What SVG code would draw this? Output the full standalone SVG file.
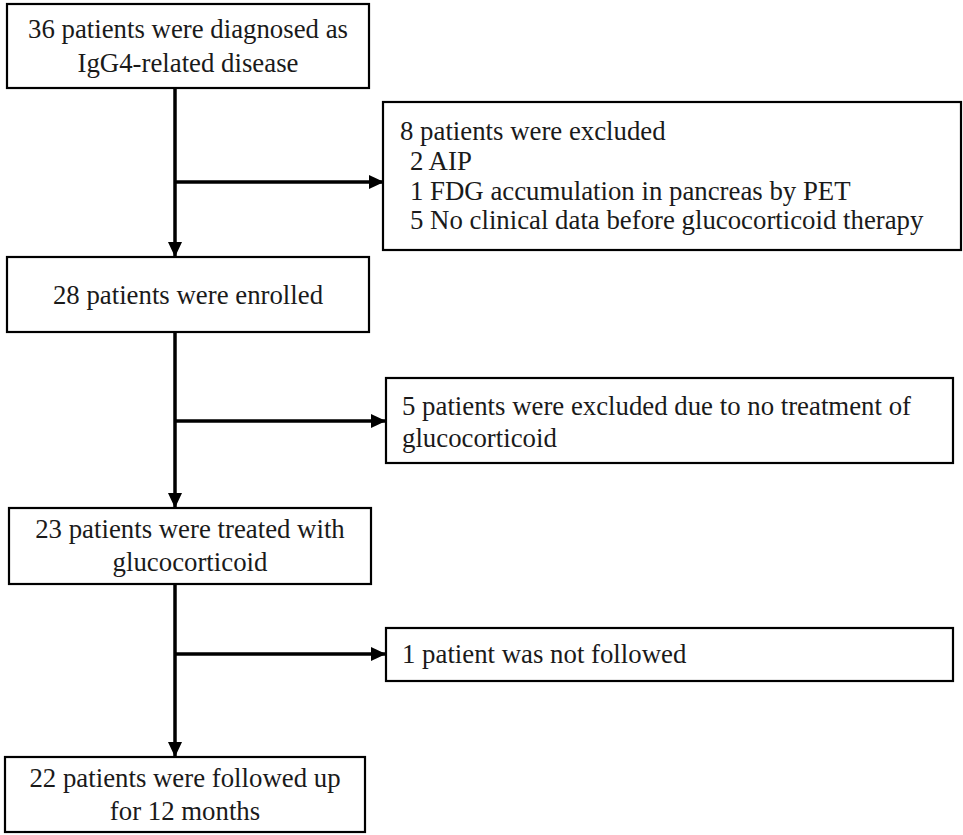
<svg xmlns="http://www.w3.org/2000/svg" width="963" height="835" viewBox="0 0 963 835">
<style>
.box{fill:#fff;stroke:#000;stroke-width:2.2}
.t{font-family:"Liberation Serif","Times New Roman",serif;font-size:26.8px;fill:#1a1a1a}
.c{text-anchor:middle}
.ln{stroke:#000;stroke-width:3.5;fill:none}
</style>
<defs>
<marker id="ah" markerUnits="userSpaceOnUse" markerWidth="15" markerHeight="14" refX="15" refY="7" orient="auto">
<path d="M0,0 L15,7 L0,14 z" fill="#000"/>
</marker>
</defs>
<g id="connectors">
<line class="ln" x1="175" y1="88" x2="175" y2="257" marker-end="url(#ah)"/>
<line class="ln" x1="175" y1="182" x2="384" y2="182" marker-end="url(#ah)"/>
<line class="ln" x1="175" y1="332" x2="175" y2="508" marker-end="url(#ah)"/>
<line class="ln" x1="175" y1="421" x2="386" y2="421" marker-end="url(#ah)"/>
<line class="ln" x1="175" y1="584" x2="175" y2="757" marker-end="url(#ah)"/>
<line class="ln" x1="175" y1="654" x2="386" y2="654" marker-end="url(#ah)"/>
</g>
<g id="n1">
<rect class="box" x="7" y="4" width="362" height="84"/>
<text class="t c" x="188" y="38">36 patients were diagnosed as</text>
<text class="t c" x="188" y="72">IgG4-related disease</text>
</g>
<g id="n2">
<rect class="box" x="383" y="102" width="578" height="148"/>
<text class="t" x="400" y="140">8 patients were excluded</text>
<text class="t" x="410" y="170">2 AIP</text>
<text class="t" x="410" y="200">1 FDG accumulation in pancreas  by PET</text>
<text class="t" x="410" y="229">5 No clinical data before glucocorticoid therapy</text>
</g>
<g id="n3">
<rect class="box" x="7" y="257" width="362" height="75"/>
<text class="t c" x="188" y="304">28 patients were enrolled</text>
</g>
<g id="n4">
<rect class="box" x="386" y="378" width="567" height="85"/>
<text class="t" x="402" y="415">5 patients were excluded due to no treatment of</text>
<text class="t" x="402" y="447">glucocorticoid</text>
</g>
<g id="n5">
<rect class="box" x="9" y="508" width="362" height="76"/>
<text class="t c" x="190" y="538">23 patients were treated with</text>
<text class="t c" x="190" y="571">glucocorticoid</text>
</g>
<g id="n6">
<rect class="box" x="386" y="628" width="567" height="53"/>
<text class="t" x="402" y="663">1 patient was not followed</text>
</g>
<g id="n7">
<rect class="box" x="5" y="757" width="360" height="75"/>
<text class="t c" x="185" y="787">22 patients were followed up</text>
<text class="t c" x="185" y="820">for 12 months</text>
</g>
</svg>
